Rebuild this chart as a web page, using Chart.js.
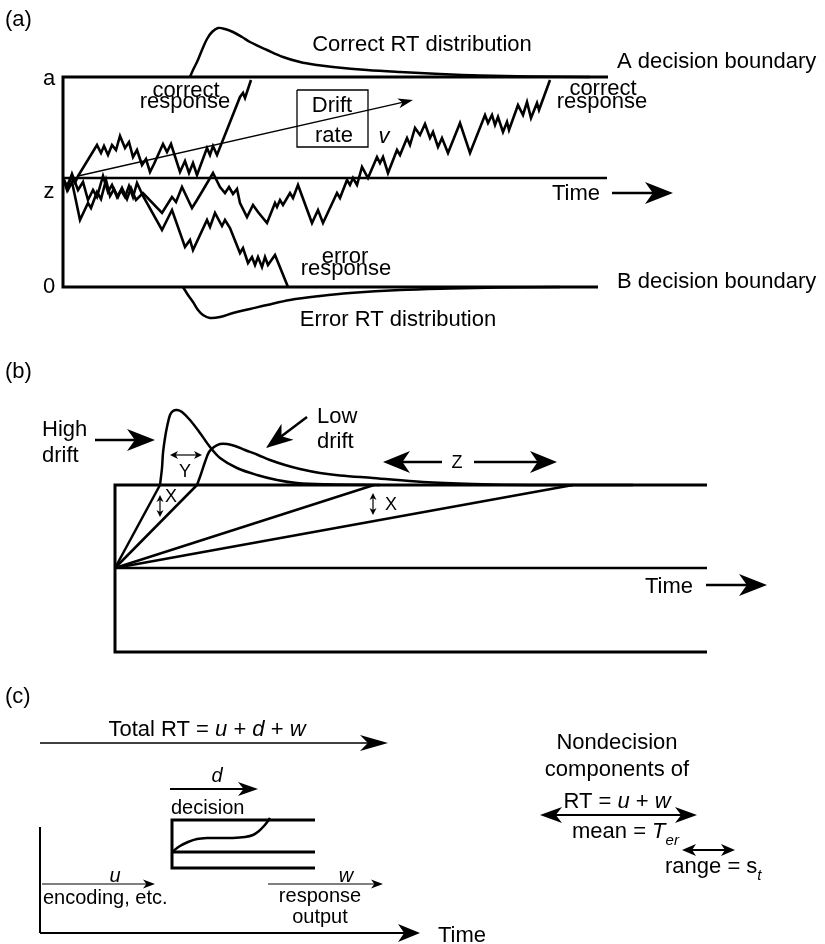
<!DOCTYPE html>
<html><head><meta charset="utf-8">
<script src="https://cdn.jsdelivr.net/npm/chart.js@4/dist/chart.umd.min.js"></script>
<style>html,body{margin:0;padding:0;background:#fff}canvas{display:block}</style>
</head><body>
<canvas id="c" width="825" height="944"></canvas>
<script>
// ---------- Panel (a): diffusion process ----------
const boxA = [[608,77],[63,77],[63,287],[598,287]];
const startLineA = [[63,178],[607,178]];
const correctRT = [[190,77],[193,70],[197,62],[202,50],[207,39],[212,32],[218,28],[225,29],[233,32],[242,37],[250,42],[267,50],[283,57],[300,62],[317,65],[333,67],[367,70],[400,72],[440,74],[480,75.5],[530,76.5],[590,77]];
const errorRT = [[183,287],[188,295],[193,302],[198,310],[203,315],[210,318],[220,317],[233,313],[250,309],[267,305],[290,300],[320,296],[350,293],[400,290],[450,288.5],[500,287.5],[560,287]];
const walkUpper = [[63,178],[67,186],[71,177],[75,183],[78,176],[97,145],[101,153],[104,146],[108,155],[112,145],[116,150],[120,136],[125,148],[129,142],[133,157],[137,150],[142,165],[146,159],[150,172],[154,164],[163,144],[167,152],[171,144],[180,172],[185,161],[189,173],[193,163],[197,175],[207,148],[210,155],[213,146],[217,155],[240,97],[243,93],[245,98],[251,80]];
const walkLong = [[63,178],[68,190],[72,182],[80,220],[88,203],[91,208],[97,192],[101,199],[106,180],[110,196],[114,189],[118,197],[122,188],[127,199],[131,188],[136,200],[143,193],[162,213],[172,197],[176,202],[182,187],[192,208],[197,200],[203,190],[213,173],[220,187],[225,193],[229,187],[233,194],[237,189],[240,203],[247,217],[253,205],[258,212],[267,223],[275,203],[277,207],[280,200],[283,205],[290,193],[293,198],[298,185],[312,223],[318,210],[323,223],[337,193],[340,198],[347,180],[350,185],[353,178],[357,185],[362,167],[368,178],[377,157],[380,163],[383,157],[388,173],[397,150],[400,155],[407,138],[410,145],[415,128],[420,135],[425,124],[430,138],[433,132],[438,147],[442,138],[448,153],[460,123],[470,153],[485,115],[488,123],[492,115],[495,125],[498,117],[503,132],[507,122],[509,130],[518,105],[523,115],[527,102],[531,118],[537,103],[539,110],[550,80]];
const walkError = [[63,178],[67,190],[72,174],[78,190],[83,182],[88,200],[93,190],[97,197],[103,176],[108,192],[112,185],[117,197],[121,190],[125,197],[129,186],[133,197],[137,183],[143,196],[162,230],[172,210],[185,247],[190,240],[193,250],[207,220],[210,227],[215,213],[222,226],[225,220],[230,228],[240,253],[243,248],[248,263],[252,257],[255,265],[258,257],[262,267],[265,257],[268,265],[275,255],[288,287]];
const driftBox = [[297,90],[368,90],[368,147],[297,147],[297,90]];

// ---------- Panel (b): drift rates ----------
const boxB = [[707,485],[115,485],[115,652],[707,652]];
const startLineB = [[115,568],[707,568]];
const fanOrigin = [115,568];
const fanEnds = [[160,485],[197,485],[374,485],[573,485]];
const highDrift = [[160,485],[162,468],[163,453],[165,438],[167,427],[170,415],[173,411],[177,410],[182,412],[190,420],[200,433],[210,447],[220,458],[237,468],[257,475],[277,480],[297,483],[327,484.3],[380,485]];
const lowDrift = [[197,485],[201,474],[205,462],[209,452],[214,447],[220,444],[227,444],[235,446],[245,450],[258,455],[270,460],[285,465],[300,469],[320,473],[340,475.5],[373,478],[423,482],[473,484],[530,485],[633,485]];

// ---------- Panel (c): RT components ----------
const boxC = [[315,820],[172,820],[172,868],[315,868]];
const startLineC = [[172,852],[315,852]];
const sCurve = [[172,852],[180,846],[188,842],[197,839],[207,838],[220,838],[233,838],[245,837],[253,835],[259,831],[264,826],[268,821],[270,818]];
const axisC = [[40,827],[40,933]];

// arrows: [from, to, lineWidth, headLength, headHalfWidth, doubleHeaded]
const arrows = [
  [[78,176],[413,100],1.3,15,5,false],
  [[612,193],[673,193],2.5,28,11,false],
  [[95,440],[155,440],2.5,28,11,false],
  [[307,417],[266,448],2.5,27,10,false],
  [[442,462],[383,462],2.5,27,11,false],
  [[474,462],[557,462],2.5,27,11,false],
  [[706,585],[767,585],2.5,28,11,false],
  [[170,455],[202,455],1.2,8,4,true],
  [[160,495],[160,517],1.2,7,3.5,true],
  [[373,493],[373,515],1.2,7,3.5,true],
  [[40,743],[388,743],1.5,28,8,false],
  [[170,789],[258,789],2,20,7,false],
  [[40,933],[420,933],2,22,9,false],
  [[42,884],[155,884],1.2,12,4.5,false],
  [[268,884],[383,884],1.2,12,4.5,false],
  [[540,815],[697,815],2,22,8,true],
  [[682,850],[735,850],2,14,6,true]
];

// labels: [parts, x, y(baseline), align, size]; part = [text, style] style: '' | 'i' | 'is' (italic subscript)
const labels = [
  [[['(a)','']],5,26,'left',22],
  [[['Correct RT distribution','']],422,51,'center',22],
  [[['A decision boundary','']],617,68,'left',22],
  [[['B decision boundary','']],617,288,'left',22],
  [[['a','']],49,85,'center',22],
  [[['z','']],49,198,'center',22],
  [[['0','']],49,293,'center',22],
  [[['correct','']],186,97,'center',22],
  [[['response','']],185,108,'center',22],
  [[['correct','']],603,95,'center',22],
  [[['response','']],602,108,'center',22],
  [[['error','']],345,263,'center',22],
  [[['response','']],346,275,'center',22],
  [[['Drift','']],332,112,'center',22],
  [[['rate','']],334,142,'center',22],
  [[['v','i']],384,143,'center',22],
  [[['Time','']],552,200,'left',22],
  [[['Error RT distribution','']],398,326,'center',22],
  [[['(b)','']],5,378,'left',22],
  [[['High','']],42,436,'left',22],
  [[['drift','']],42,462,'left',22],
  [[['Low','']],317,423,'left',22],
  [[['drift','']],317,448,'left',22],
  [[['X','']],165,502,'left',18],
  [[['Y','']],185,477,'center',18],
  [[['X','']],385,510,'left',18],
  [[['Z','']],457,468,'center',18],
  [[['Time','']],645,593,'left',22],
  [[['(c)','']],5,703,'left',22],
  [[['Total RT = ',''],['u','i'],[' + ',''],['d','i'],[' + ',''],['w','i']],207,736,'center',22],
  [[['d','i']],217,782,'center',20],
  [[['decision','']],171,814,'left',20],
  [[['u','i']],115,882,'center',20],
  [[['encoding, etc.','']],43,904,'left',20],
  [[['w','i']],346,882,'center',20],
  [[['response','']],320,902,'center',20],
  [[['output','']],320,923,'center',20],
  [[['Time','']],438,942,'left',22],
  [[['Nondecision','']],617,749,'center',22],
  [[['components of','']],617,776,'center',22],
  [[['RT = ',''],['u','i'],[' + ',''],['w','i']],617,808,'center',22],
  [[['mean = ',''],['T','i'],['er','is']],572,838,'left',22],
  [[['range = s',''],['t','is']],665,873,'left',22]
];

const FONT = '"Liberation Sans", Arial, Helvetica, sans-serif';
const pts = a => a.map(([x,y]) => ({x, y}));
function path(points, width, tension) {
  return {data: pts(points), showLine: true, borderColor: '#000', backgroundColor: '#000',
    borderWidth: width, pointRadius: 0, pointHoverRadius: 0, tension: tension || 0,
    fill: false, borderJoinStyle: 'miter', borderCapStyle: 'butt', clip: false};
}
const datasets = [
  path(boxA, 3), path(startLineA, 2.5),
  path(correctRT, 2.5, 0.35), path(errorRT, 2.5, 0.35),
  path(walkUpper, 2.6), path(walkLong, 2.6), path(walkError, 2.6),
  path(driftBox, 1.3),
  path(boxB, 3), path(startLineB, 2.5),
  ...fanEnds.map(e => path([fanOrigin, e], 2.5)),
  path(highDrift, 2.5, 0.35), path(lowDrift, 2.5, 0.35),
  path(boxC, 3), path(startLineC, 3), path(sCurve, 2.5, 0.35), path(axisC, 2)
];
// arrow shafts, shortened so the head covers the end
arrows.forEach(([f, t, w, len, half, both]) => {
  const dx = t[0]-f[0], dy = t[1]-f[1], L = Math.hypot(dx, dy), ux = dx/L, uy = dy/L;
  const e = [t[0]-ux*len*0.5, t[1]-uy*len*0.5];
  const s = both ? [f[0]+ux*len*0.5, f[1]+uy*len*0.5] : f;
  datasets.push(path([s, e], w));
});

const drawPlugin = {
  id: 'diagram',
  afterDatasetsDraw(chart) {
    const ctx = chart.ctx, sx = chart.scales.x, sy = chart.scales.y;
    const P = p => [sx.getPixelForValue(p[0]), sy.getPixelForValue(p[1])];
    ctx.save();
    ctx.fillStyle = '#000';
    const head = (tip, from, len, half) => {
      const dx = tip[0]-from[0], dy = tip[1]-from[1], L = Math.hypot(dx, dy), ux = dx/L, uy = dy/L;
      const nx = -uy, ny = ux;
      ctx.beginPath();
      ctx.moveTo(tip[0], tip[1]);
      ctx.lineTo(tip[0]-ux*len+nx*half, tip[1]-uy*len+ny*half);
      ctx.lineTo(tip[0]-ux*len*0.72, tip[1]-uy*len*0.72);
      ctx.lineTo(tip[0]-ux*len-nx*half, tip[1]-uy*len-ny*half);
      ctx.closePath();
      ctx.fill();
    };
    arrows.forEach(([f, t, w, len, half, both]) => {
      const a = P(f), b = P(t);
      head(b, a, len, half);
      if (both) head(a, b, len, half);
    });
    ctx.textBaseline = 'alphabetic';
    ctx.textAlign = 'left';
    labels.forEach(([parts, x, y, align, size]) => {
      const [px, py] = P([x, y]);
      const fontFor = st => (st.startsWith('i') ? 'italic ' : '') + (st === 'is' ? Math.round(size*0.68) : size) + 'px ' + FONT;
      let total = 0;
      parts.forEach(([txt, st]) => { ctx.font = fontFor(st); total += ctx.measureText(txt).width; });
      let cx = align === 'center' ? px - total/2 : (align === 'right' ? px - total : px);
      parts.forEach(([txt, st]) => {
        ctx.font = fontFor(st);
        ctx.fillText(txt, cx, st === 'is' ? py + size*0.32 : py);
        cx += ctx.measureText(txt).width;
      });
    });
    ctx.restore();
  }
};

new Chart(document.getElementById('c'), {
  type: 'scatter',
  data: {datasets},
  options: {
    responsive: false, animation: false, devicePixelRatio: 1, events: [],
    layout: {padding: 0},
    plugins: {legend: {display: false}, tooltip: {enabled: false}},
    scales: {
      x: {type: 'linear', min: 0, max: 825, display: false},
      y: {type: 'linear', min: 0, max: 944, reverse: true, display: false}
    }
  },
  plugins: [drawPlugin]
});
</script>
</body></html>
